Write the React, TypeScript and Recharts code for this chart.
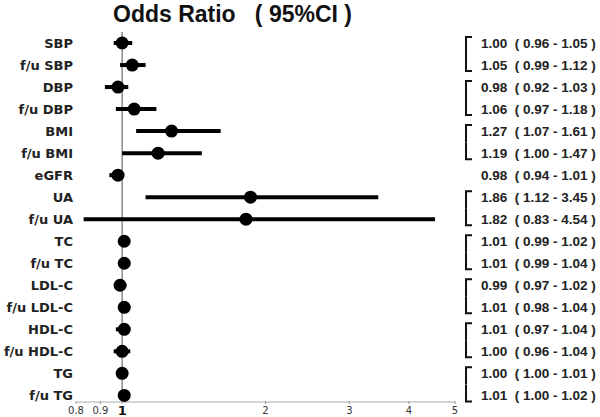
import React from "react";
import { ScatterChart, Scatter, XAxis, YAxis, ErrorBar, ReferenceLine } from "recharts";

// --- data ---
const labels = [
  "SBP", "f/u SBP", "DBP", "f/u DBP", "BMI", "f/u BMI", "eGFR", "UA", "f/u UA",
  "TC", "f/u TC", "LDL-C", "f/u LDL-C", "HDL-C", "f/u HDL-C", "TG", "f/u TG",
];
const oddsRatio = [1.00, 1.05, 0.98, 1.06, 1.27, 1.19, 0.98, 1.86, 1.82, 1.01, 1.01, 0.99, 1.01, 1.01, 1.00, 1.00, 1.01];
const ciLower = [0.96, 0.99, 0.92, 0.97, 1.07, 1.00, 0.94, 1.12, 0.83, 0.99, 0.99, 0.97, 0.98, 0.97, 0.96, 1.00, 1.00];
const ciUpper = [1.05, 1.12, 1.03, 1.18, 1.61, 1.47, 1.01, 3.45, 4.54, 1.02, 1.04, 1.02, 1.04, 1.04, 1.04, 1.01, 1.02];
// baseline / follow-up pairs share a group (bracket on the right)
const groups = [0, 0, 1, 1, 2, 2, 3, 4, 4, 5, 5, 6, 6, 7, 7, 8, 8];
const xTicks = [0.8, 0.9, 1, 2, 3, 4, 5];

const rows = labels.map((name, i) => ({
  idx: i,
  name,
  or: oddsRatio[i],
  lo: ciLower[i],
  hi: ciUpper[i],
  err: [oddsRatio[i] - ciLower[i], ciUpper[i] - oddsRatio[i]],
}));

const fmt = (v: number) => v.toFixed(2);
const NB = "\u00a0";

function LeftTick({ x, y, payload }: any) {
  return (
    <text x={x} y={y} dy={4.5} textAnchor="end" fontFamily="DejaVu Sans" fontWeight="bold" fontSize={13} fill="#222">
      {labels[payload.value]}
    </text>
  );
}

function RightTick({ x, y, payload }: any) {
  const i = payload.value;
  const bx = x + 11;
  let bracket = null;
  if (groups[i + 1] === groups[i]) {
    bracket = <path d={`M ${bx + 6} ${y - 6} H ${bx} V ${y + 11}`} stroke="#111" strokeWidth={2} fill="none" />;
  } else if (i > 0 && groups[i - 1] === groups[i]) {
    bracket = <path d={`M ${bx} ${y - 11} V ${y + 6} H ${bx + 6}`} stroke="#111" strokeWidth={2} fill="none" />;
  }
  return (
    <g>
      {bracket}
      <text x={x + 26} y={y} dy={4.5} fontFamily="Liberation Sans, Arial" fontWeight="bold" fontSize={13.5} fill="#222">
        {`${fmt(oddsRatio[i])}${NB}${NB}(${NB}${fmt(ciLower[i])}${NB}-${NB}${fmt(ciUpper[i])}${NB})`}
      </text>
    </g>
  );
}

function XTick({ x, y, payload }: any) {
  const one = payload.value === 1;
  return (
    <g>
      <line x1={x} x2={x} y1={y - 3} y2={y} stroke="#999" />
      <text
        x={x}
        y={y}
        dy={one ? 10.5 : 10}
        textAnchor="middle"
        fontFamily="DejaVu Sans"
        fontSize={one ? 13 : 10}
        fontWeight={one ? "bold" : "normal"}
        fill={one ? "#111" : "#333"}
      >
        {payload.value}
      </text>
    </g>
  );
}

const Dot = ({ cx, cy }: any) => <circle cx={cx} cy={cy} r={6.5} fill="#000" />;

export default function App() {
  return (
    <div style={{ position: "absolute", left: 0, top: 0, width: 600, height: 417, background: "#fff" }}>
      <div
        style={{
          position: "absolute",
          left: 113,
          top: 2,
          fontFamily: "Liberation Sans, Arial",
          fontWeight: "bold",
          fontSize: 23,
          lineHeight: "24px",
          whiteSpace: "pre",
          color: "#111",
        }}
      >
        {"Odds Ratio   ( 95%CI )"}
      </div>
      <ScatterChart width={600} height={417} margin={{ top: 32, right: 0, left: 0, bottom: 0 }}>
        <XAxis
          type="number"
          dataKey="or"
          scale="log"
          domain={[0.8, 5]}
          allowDataOverflow
          ticks={xTicks}
          interval={0}
          tick={<XTick />}
          tickLine={false}
          tickSize={0}
          height={15}
          stroke="#aaa"
        />
        <YAxis
          yAxisId="l"
          type="number"
          dataKey="idx"
          domain={[-0.5, 16.3]}
          reversed
          ticks={rows.map((r) => r.idx)}
          interval={0}
          tick={<LeftTick />}
          tickLine={false}
          axisLine={false}
          tickSize={0}
          tickMargin={3}
          width={76}
        />
        <YAxis
          yAxisId="r"
          orientation="right"
          type="number"
          dataKey="idx"
          domain={[-0.5, 16.3]}
          reversed
          ticks={rows.map((r) => r.idx)}
          interval={0}
          tick={<RightTick />}
          tickLine={false}
          axisLine={false}
          tickSize={0}
          tickMargin={0}
          width={145}
        />
        <ReferenceLine yAxisId="l" x={1} stroke="#8c8c8c" strokeWidth={1.5} />
        <Scatter yAxisId="r" data={rows} shape={() => <g />} isAnimationActive={false} />
        <Scatter yAxisId="l" data={rows} shape={<Dot />} isAnimationActive={false}>
          <ErrorBar dataKey="err" direction="x" width={0} stroke="#000" strokeWidth={4} />
        </Scatter>
      </ScatterChart>
    </div>
  );
}
